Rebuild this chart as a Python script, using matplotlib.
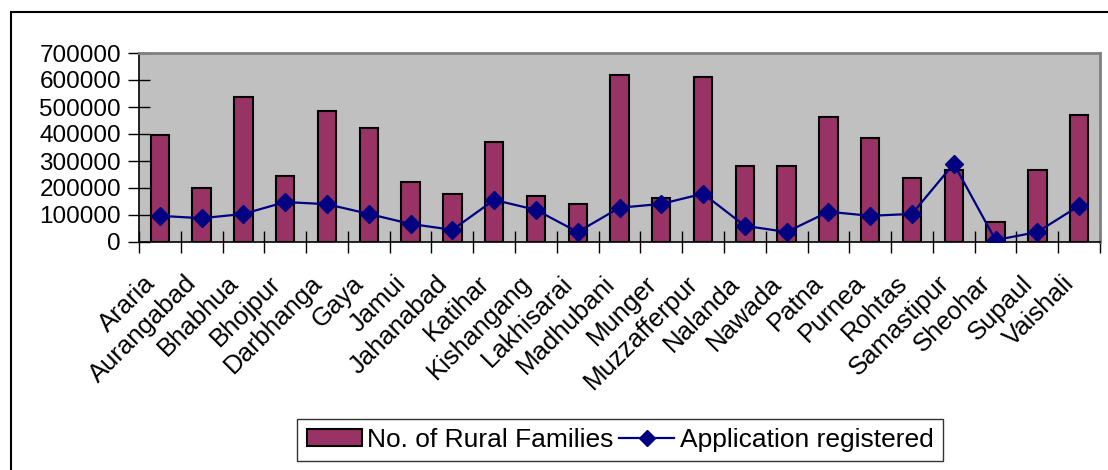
import matplotlib
matplotlib.use("Agg")
import matplotlib.pyplot as plt
from matplotlib.patches import Rectangle
from matplotlib.lines import Line2D
from matplotlib.transforms import ScaledTranslation
import numpy as np

districts = ["Araria", "Aurangabad", "Bhabhua", "Bhojpur", "Darbhanga", "Gaya",
             "Jamui", "Jahanabad", "Katihar", "Kishangang", "Lakhisarai",
             "Madhubani", "Munger", "Muzzafferpur", "Nalanda", "Nawada", "Patna",
             "Purnea", "Rohtas", "Samastipur", "Sheohar", "Supaul", "Vaishali"]
rural_families = [395000, 201000, 536000, 246000, 484000, 424000, 223000,
                  179000, 372000, 171000, 141000, 618000, 164000, 611000,
                  283000, 283000, 462000, 387000, 238000, 268000, 74000,
                  268000, 469000]
applications = [97000, 88000, 104000, 148000, 140000, 104000, 67000, 45000,
                156000, 119000, 37000, 127000, 141000, 179000, 60000, 37000,
                112000, 97000, 104000, 290000, 7000, 37000, 134000]
y_ticks = [0, 100000, 200000, 300000, 400000, 500000, 600000, 700000]

plt.rcParams["font.family"] = ["Liberation Sans", "DejaVu Sans"]

fig = plt.figure(figsize=(11.08, 4.70), dpi=100)
ax = fig.add_axes([139 / 1108, 1 - 242 / 470, (1100 - 139) / 1108, (242 - 53) / 470])

x = np.arange(len(districts))
bar_color = "#993366"
line_color = "#000080"

ax.set_facecolor("#C0C0C0")
ax.bar(x, rural_families, width=0.44, color=bar_color, edgecolor="black",
       linewidth=1.5, zorder=2)
ax.plot(x, applications, color=line_color, linewidth=1.6, marker="D",
        markersize=9, markerfacecolor=line_color, markeredgecolor=line_color,
        zorder=3)

ax.set_xlim(-0.5, len(districts) - 0.5)
ax.set_ylim(0, 700000)
ax.set_yticks(y_ticks)
ax.set_yticklabels([str(v) for v in y_ticks], fontsize=17.5)

ax.set_xticks(x)
ax.set_xticklabels(districts, fontsize=18.5, rotation=45, ha="right",
                   va="top", rotation_mode="anchor")
ax.tick_params(axis="x", which="major", length=0, pad=21)
shift = ScaledTranslation(-17 / 100, 0, fig.dpi_scale_trans)
for lbl in ax.get_xticklabels():
    lbl.set_transform(lbl.get_transform() + shift)
ax.set_xticks(np.arange(-0.5, len(districts)), minor=True)
ax.tick_params(axis="x", which="minor", direction="inout", length=16,
               width=1, color="black")
ax.tick_params(axis="y", direction="inout", length=16, width=1, pad=5)

for side in ("left", "bottom"):
    ax.spines[side].set_color("black")
    ax.spines[side].set_linewidth(1.2)
for side in ("top", "right"):
    ax.spines[side].set_color("#808080")
    ax.spines[side].set_linewidth(2)

handles = [
    Rectangle((0, 0), 1, 1, facecolor=bar_color, edgecolor="black", linewidth=1.5),
    Line2D([], [], color=line_color, linewidth=1.6, marker="D", markersize=8,
           markerfacecolor=line_color, markeredgecolor=line_color),
]
leg = fig.legend(handles, ["No. of Rural Families", "Application registered"],
                 loc="center", bbox_to_anchor=(620 / 1108, 1 - 440 / 470),
                 ncol=2, fontsize=19, frameon=True, fancybox=False,
                 edgecolor="black", borderpad=0.35, handlelength=2.1,
                 handleheight=0.6, handletextpad=0.2, columnspacing=0.2,
                 borderaxespad=0)
leg.get_frame().set_linewidth(1.0)

# chart-area frame (only its left and top edges fall inside the canvas)
fig.patches.append(Rectangle((11 / 1108, -0.2), 1.2, 1 - 12 / 470 + 0.2,
                             transform=fig.transFigure, fill=False,
                             edgecolor="black", linewidth=1.5, zorder=0))

fig.savefig("out.png", dpi=100, facecolor="white")
